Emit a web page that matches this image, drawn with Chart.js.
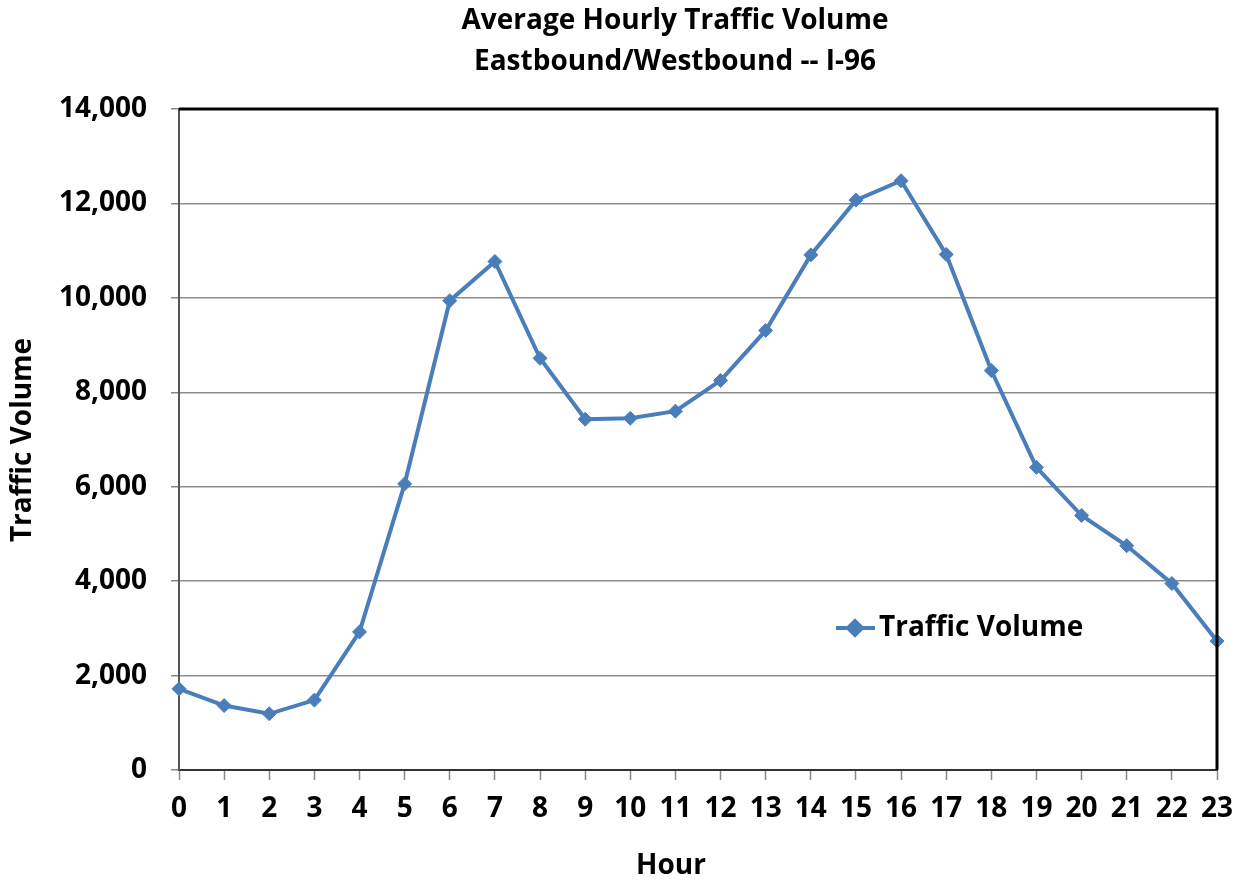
<!DOCTYPE html>
<html>
<head>
<meta charset="utf-8">
<title>Average Hourly Traffic Volume</title>
<script src="https://cdn.jsdelivr.net/npm/chart.js@4.4.1/dist/chart.umd.min.js"></script>
<style>
  html, body { margin: 0; padding: 0; background: #fff; }
  canvas { display: block; }
</style>
</head>
<body>
<canvas id="myChart" width="1246" height="884"></canvas>
<script>
const hours = ["0", "1", "2", "3", "4", "5", "6", "7", "8", "9", "10", "11",
  "12", "13", "14", "15", "16", "17", "18", "19", "20", "21", "22", "23"];
const trafficVolume = [1720, 1365, 1190, 1480, 2925, 6060, 9940, 10770, 8720, 7430, 7450, 7600,
  8250, 9310, 10910, 12070, 12480, 10920, 8460, 6410, 5390, 4750, 3950, 2730];
const titleLines = ["Average Hourly Traffic Volume", "Eastbound/Westbound -- I-96"];
const seriesName = "Traffic Volume";
const xTitle = "Hour";
const yTitle = "Traffic Volume";

const FONT = "'Open Sans', 'DejaVu Sans', sans-serif";
const BLUE = "#4a7ebb";

// titles, legend and the black top/right frame drawn by hand
const decorations = {
  id: "decorations",
  afterDraw(chart) {
    const c = chart.ctx;
    const a = chart.chartArea;
    c.save();
    c.strokeStyle = "#000";
    c.lineWidth = 3;
    c.beginPath();
    c.moveTo(a.left, a.top);
    c.lineTo(a.right, a.top);
    c.lineTo(a.right, a.bottom);
    c.stroke();

    c.fillStyle = "#000";
    c.font = "bold 28px " + FONT;
    c.textAlign = "center";
    c.textBaseline = "middle";
    c.fillText(titleLines[0], 675, 21);
    c.fillText(titleLines[1], 675, 62);
    c.fillText(xTitle, 671, 866);

    c.save();
    c.translate(23, 440);
    c.rotate(-Math.PI / 2);
    c.fillText(yTitle, 0, 0);
    c.restore();

    // legend
    const ds = chart.data.datasets[0];
    c.strokeStyle = ds.borderColor;
    c.lineWidth = ds.borderWidth;
    c.beginPath();
    c.moveTo(836, 628);
    c.lineTo(875, 628);
    c.stroke();
    Chart.helpers.drawPoint(c, { pointStyle: "rectRot", radius: 7, borderWidth: 1 }, 855, 628);
    c.fillStyle = ds.backgroundColor;
    c.fill();
    c.fillStyle = "#000";
    c.textAlign = "left";
    c.fillText(seriesName, 879, 628);
    c.restore();
  }
};

new Chart(document.getElementById("myChart"), {
  type: "line",
  data: {
    labels: hours,
    datasets: [{
      label: seriesName,
      data: trafficVolume,
      borderColor: BLUE,
      backgroundColor: BLUE,
      borderWidth: 4,
      pointStyle: "rectRot",
      pointRadius: 7,
      pointBorderWidth: 1,
      tension: 0
    }]
  },
  options: {
    responsive: false,
    animation: false,
    devicePixelRatio: 1,
    layout: { padding: { top: 109, right: 29, bottom: 0, left: 0 } },
    plugins: {
      legend: { display: false },
      title: { display: false },
      tooltip: { enabled: false }
    },
    scales: {
      x: {
        offset: false,
        grid: { drawOnChartArea: false, drawTicks: true, tickLength: 10, tickColor: "#888", tickWidth: 1.5 },
        border: { color: "#333", width: 2 },
        ticks: { color: "#000", font: { family: FONT, size: 28, weight: "bold" }, padding: 12, maxRotation: 0, autoSkip: false },
        afterFit(scale) { scale.height = 114; }
      },
      y: {
        min: 0,
        max: 14000,
        grid: { color: "#8c8c8c", lineWidth: 1.5, tickLength: 8, tickColor: "#888" },
        border: { color: "#555", width: 2 },
        ticks: {
          stepSize: 2000,
          color: "#000",
          font: { family: FONT, size: 28, weight: "bold" },
          padding: 24,
          callback: (v) => v.toLocaleString("en-US")
        },
        afterFit(scale) { scale.width = 179; }
      }
    }
  },
  plugins: [decorations]
});
</script>
</body>
</html>
